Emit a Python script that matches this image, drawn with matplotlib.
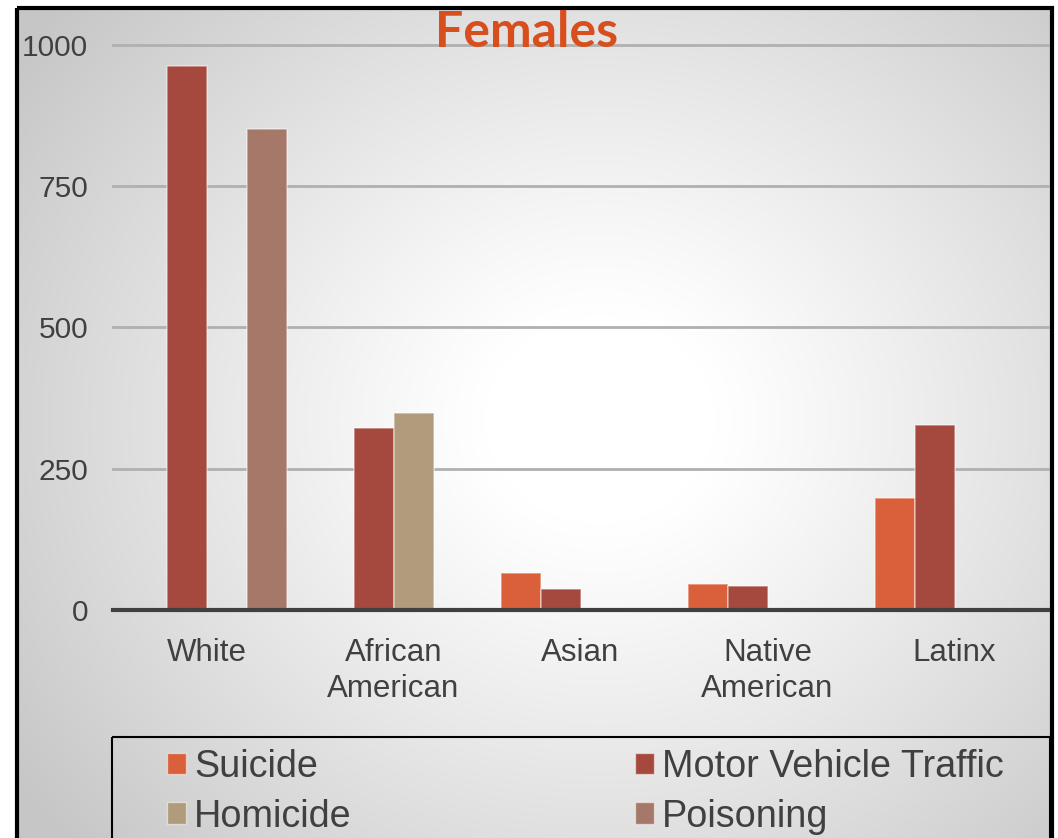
import numpy as np
import matplotlib
matplotlib.use("Agg")
import matplotlib.pyplot as plt
from matplotlib.patches import Rectangle, Patch

categories = ["White", "African\nAmerican", "Asian", "Native\nAmerican", "Latinx"]
series_names = ["Suicide", "Motor Vehicle Traffic", "Homicide", "Poisoning"]
suicide = [np.nan, np.nan, 66, 46, 199]
motor_vehicle = [963, 323, 38, 43, 328]
homicide = [np.nan, 348, np.nan, np.nan, np.nan]
poisoning = [852, np.nan, np.nan, np.nan, np.nan]
yticks = [0, 250, 500, 750, 1000]
colors = ["#D9603A", "#A5493F", "#B09C7C", "#A57869"]

W, H = 1058, 838
fig = plt.figure(figsize=(W / 100, H / 100), dpi=100)

# background with radial gradient inside a black frame
bg = fig.add_axes([0, 0, 1, 1], zorder=-10)
bg.set_xlim(0, W)
bg.set_ylim(H, 0)
bg.axis("off")
yy, xx = np.mgrid[0:H, 0:W]
r = np.sqrt(((xx - 600) / 1.05) ** 2 + ((yy - 420) / 0.95) ** 2)
t = np.clip((r - 110) / 560, 0, 1)
val = 1 - 0.22 * t ** 1.1
img = np.ones((H, W))
mask = (xx >= 17) & (yy >= 8) & (xx <= 1052)
img[mask] = val[mask]
bg.imshow(np.dstack([img] * 3), extent=(0, W, H, 0), aspect="auto", interpolation="bilinear")
bg.add_patch(Rectangle((17, 8), 1035, 860, fill=False, lw=3, ec="black"))
bg.add_patch(Rectangle((112, 737), 938, 130, fill=False, lw=1.5, ec="black"))

ax = fig.add_axes([113 / W, (H - 610) / H, 935 / W, 565 / H])
ax.patch.set_alpha(0)
ax.set_xlim(-0.5, 4.5)
ax.set_ylim(0, 1000)
for s in ax.spines.values():
    s.set_visible(False)

for tv in yticks[1:]:
    ax.axhline(tv, color="#b0b0b0", lw=2, zorder=1, clip_on=False)
ax.axhline(0, color="#404040", lw=3, zorder=4, clip_on=False)

x = np.arange(len(categories))
w = 40 / 187
all_vals = [suicide, motor_vehicle, homicide, poisoning]
offsets = [-1.5, -0.5, 0.5, 1.5]
for vals, off, c, name in zip(all_vals, offsets, colors, series_names):
    ax.bar(x + off * w, vals, w, color=c, edgecolor=(1, 1, 1, 0.45), lw=1.2,
           zorder=2, label=name)

ax.set_yticks(yticks)
ax.set_yticklabels([str(v) for v in yticks])
ax.set_xticks(x)
ax.set_xticklabels(categories, linespacing=1.25)
ax.tick_params(axis="y", length=0, pad=18, labelsize=21.5, labelcolor="#404040")
ax.tick_params(axis="x", length=0, pad=20, labelsize=22.5, labelcolor="#404040")
for lab in ax.get_xticklabels() + ax.get_yticklabels():
    lab.set_fontfamily("Liberation Sans")

fig.text(527 / W, (H - 47) / H, "Females", ha="center", va="baseline",
         fontsize=36, fontweight="bold", color="#D84E1C", family="Lato")

order = [0, 2, 1, 3]
handles = [Patch(facecolor=colors[i], edgecolor=(1, 1, 1, 0.5), lw=1) for i in order]
labels = [series_names[i] for i in order]
leg = fig.legend(handles, labels, loc="upper left",
                 bbox_to_anchor=(167 / W, (H - 749) / H), ncol=2, frameon=False,
                 prop={"family": "Liberation Sans", "size": 27.2},
                 handlelength=0.5, handleheight=0.5, handletextpad=0.22,
                 columnspacing=7.5, labelspacing=0.36, borderpad=0, borderaxespad=0)
for txt in leg.get_texts():
    txt.set_color("#404040")

fig.savefig("out.png", dpi=100)
